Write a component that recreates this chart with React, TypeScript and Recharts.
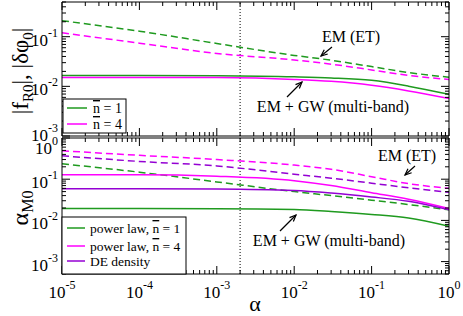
import React from 'react';
import { LineChart, Line, XAxis, YAxis, ReferenceLine } from 'recharts';

const alpha = [1e-5, 1e-4, 1e-3, 1e-2, 3e-2, 1e-1, 3e-1, 1];

// upper panel: |fR0|, |dphi0|
const fEmN1 = [0.21, 0.129, 0.073, 0.042, 0.0336, 0.025, 0.019, 0.0153];
const fEmN4 = [0.12, 0.074, 0.046, 0.034, 0.028, 0.0214, 0.0166, 0.0138];
const fGwN1 = [0.0166, 0.0166, 0.0164, 0.0156, 0.0148, 0.0132, 0.0101, 0.0069];
const fGwN4 = [0.0151, 0.0151, 0.015, 0.0138, 0.0126, 0.0105, 0.0081, 0.0057];

// lower panel: alpha_M0
const aEmN1 = [0.236, 0.148, 0.086, 0.05, 0.04, 0.031, 0.0243, 0.018];
const aEmN4 = [0.49, 0.38, 0.3, 0.22, 0.174, 0.115, 0.078, 0.06];
const aEmDE = [0.37, 0.27, 0.21, 0.132, 0.106, 0.08, 0.062, 0.048];
const aGwN1 = [0.0194, 0.0194, 0.0193, 0.0184, 0.0165, 0.014, 0.0114, 0.0072];
const aGwN4 = [0.128, 0.128, 0.118, 0.092, 0.07, 0.047, 0.0326, 0.0194];
const aGwDE = [0.059, 0.059, 0.058, 0.053, 0.046, 0.037, 0.029, 0.018];

const alphaMark = 0.002;

const xDomain = [1e-5, 1];
const topDomain = [1e-3, 0.5];
const botDomain = [5e-4, 1];

const GREEN = '#1f9a1f';
const MAGENTA = '#ff00ff';
const PURPLE = '#9400d3';
const FONT = "'Liberation Serif', 'Times New Roman', serif";

// decade + minor ticks between two numbers
function logTicks(lo: number, hi: number) {
  const out: number[] = [];
  for (let d = Math.floor(Math.log10(lo)); d <= Math.ceil(Math.log10(hi)); d++) {
    for (let m = 1; m <= 9; m++) {
      const v = m * Math.pow(10, d);
      if (v >= lo * 0.999 && v <= hi * 1.001) out.push(v);
    }
  }
  return out;
}
const isMajor = (v: number) => Math.abs(Math.log10(v) - Math.round(Math.log10(v))) < 1e-6;
const expOf = (v: number) => String(Math.round(Math.log10(v)));

const xTicks = logTicks(xDomain[0], xDomain[1]);
const topTicks = logTicks(topDomain[0], topDomain[1]);
const botTicks = logTicks(botDomain[0], botDomain[1]);

const topData = alpha.map((a, i) => ({ a, emN1: fEmN1[i], emN4: fEmN4[i], gwN1: fGwN1[i], gwN4: fGwN4[i] }));
const botData = alpha.map((a, i) => ({
  a, emN1: aEmN1[i], emN4: aEmN4[i], emDE: aEmDE[i], gwN1: aGwN1[i], gwN4: aGwN4[i], gwDE: aGwDE[i],
}));

const txt = { style: { fontFamily: FONT }, fill: '#000' };

const Pow = ({ x, y, v, anchor }: any) => (
  <text x={x} y={y} textAnchor={anchor} fontSize={17} {...txt}>
    10<tspan dy={-9} fontSize={12}>{expOf(v)}</tspan>
  </text>
);

const BottomTick = (labels: boolean) => (p: any) => {
  const v = p.payload.value;
  const len = isMajor(v) ? 8 : 4;
  return (
    <g>
      <line x1={p.x} y1={p.y} x2={p.x} y2={p.y - len} stroke="#000" />
      {labels && isMajor(v) && <Pow x={p.x} y={p.y + 24} v={v} anchor="middle" />}
    </g>
  );
};
const TopTick = (p: any) => {
  const len = isMajor(p.payload.value) ? 8 : 4;
  return <line x1={p.x} y1={p.y} x2={p.x} y2={p.y + len} stroke="#000" />;
};
// labels at the panel seam are nudged apart, as in the figure
const LeftTick = (lo: number, hi: number) => (p: any) => {
  const v = p.payload.value;
  const len = isMajor(v) ? 8 : 4;
  const nudge = Math.abs(v - lo) < lo * 1e-3 ? -4 : Math.abs(v - hi) < hi * 1e-3 ? 7 : 0;
  return (
    <g>
      <line x1={p.x} y1={p.y} x2={p.x + len} y2={p.y} stroke="#000" />
      {isMajor(v) && <Pow x={p.x - 4} y={p.y + 9 + nudge} v={v} anchor="end" />}
    </g>
  );
};
const RightTick = (p: any) => {
  const len = isMajor(p.payload.value) ? 8 : 4;
  return <line x1={p.x} y1={p.y} x2={p.x - len} y2={p.y} stroke="#000" />;
};

const axes = (yDomain: number[], yTicks: number[], labels: boolean) => [
  <XAxis key="xb" xAxisId="b" dataKey="a" orientation="bottom" type="number" scale="log" domain={xDomain}
    allowDataOverflow ticks={xTicks} interval={0} height={1} tickSize={0} tickMargin={0}
    tickLine={false} stroke="#000" tick={BottomTick(labels)} />,
  <XAxis key="xt" xAxisId="t" dataKey="a" orientation="top" type="number" scale="log" domain={xDomain}
    allowDataOverflow ticks={xTicks} interval={0} height={1} tickSize={0} tickMargin={0}
    tickLine={false} stroke="#000" tick={TopTick} />,
  <YAxis key="yl" yAxisId="l" orientation="left" type="number" scale="log" domain={yDomain}
    allowDataOverflow ticks={yTicks} interval={0} width={1} tickSize={0} tickMargin={0}
    tickLine={false} stroke="#000" tick={LeftTick(yDomain[0], yDomain[1])} />,
  <YAxis key="yr" yAxisId="r" orientation="right" type="number" scale="log" domain={yDomain}
    allowDataOverflow ticks={yTicks} interval={0} width={1} tickSize={0} tickMargin={0}
    tickLine={false} stroke="#000" tick={RightTick} />,
];

const series = (key: string, color: string, dashed: boolean) => (
  <Line key={key} xAxisId="b" yAxisId="l" dataKey={key} type="monotone" stroke={color}
    strokeWidth={1.5} strokeDasharray={dashed ? '7 4' : undefined} dot={false}
    isAnimationActive={false} />
);

const Arrow = ({ x1, y1, x2, y2 }: any) => {
  const ang = Math.atan2(y2 - y1, x2 - x1);
  const h = 7, w = 0.4;
  const p1 = [x2 - h * Math.cos(ang - w), y2 - h * Math.sin(ang - w)];
  const p2 = [x2 - h * Math.cos(ang + w), y2 - h * Math.sin(ang + w)];
  return (
    <g stroke="#000" strokeWidth={1.2} fill="none">
      <line x1={x1} y1={y1} x2={x2} y2={y2} />
      <polyline points={`${p1[0]},${p1[1]} ${x2},${y2} ${p2[0]},${p2[1]}`} />
    </g>
  );
};

export default function App() {
  return (
    <div style={{ position: 'absolute', left: 0, top: 0, width: 463, height: 316, background: '#fff' }}>
      <div style={{ position: 'absolute', left: 0, top: 0 }}>
        <LineChart width={463} height={160} data={topData} margin={{ top: 1, right: 13, bottom: 23, left: 61 }}>
          {axes(topDomain, topTicks, false)}
          <ReferenceLine xAxisId="b" yAxisId="l" x={alphaMark} stroke="#000" strokeDasharray="1 2" />
          {series('emN1', GREEN, true)}
          {series('emN4', MAGENTA, true)}
          {series('gwN1', GREEN, false)}
          {series('gwN4', MAGENTA, false)}
        </LineChart>
      </div>
      <div style={{ position: 'absolute', left: 0, top: 130 }}>
        <LineChart width={463} height={186} data={botData} margin={{ top: 7, right: 13, bottom: 41, left: 61 }}>
          {axes(botDomain, botTicks, true)}
          <ReferenceLine xAxisId="b" yAxisId="l" x={alphaMark} stroke="#000" strokeDasharray="1 2" />
          {series('emN4', MAGENTA, true)}
          {series('emDE', PURPLE, true)}
          {series('emN1', GREEN, true)}
          {series('gwN4', MAGENTA, false)}
          {series('gwDE', PURPLE, false)}
          {series('gwN1', GREEN, false)}
        </LineChart>
      </div>
      <svg width={463} height={316} style={{ position: 'absolute', left: 0, top: 0, pointerEvents: 'none' }}>
        {/* upper legend */}
        <rect x={63} y={99} width={63} height={34} fill="#fff" stroke="#000" />
        <line x1={67} y1={108} x2={87} y2={108} stroke={GREEN} strokeWidth={1.5} />
        <line x1={67} y1={124} x2={87} y2={124} stroke={MAGENTA} strokeWidth={1.5} />
        <text x={93} y={113} fontSize={14} {...txt}><tspan style={{ textDecoration: 'overline' }}>n</tspan> = 1</text>
        <text x={93} y={129} fontSize={14} {...txt}><tspan style={{ textDecoration: 'overline' }}>n</tspan> = 4</text>

        {/* lower legend */}
        <rect x={62} y={217} width={124} height={57} fill="#fff" stroke="#000" />
        <line x1={67} y1={228} x2={85} y2={228} stroke={GREEN} strokeWidth={1.5} />
        <line x1={67} y1={246} x2={85} y2={246} stroke={MAGENTA} strokeWidth={1.5} />
        <line x1={67} y1={261} x2={85} y2={261} stroke={PURPLE} strokeWidth={1.5} />
        <text x={90} y={233} fontSize={13.5} {...txt}>power law, <tspan style={{ textDecoration: 'overline' }}>n</tspan> = 1</text>
        <text x={90} y={251} fontSize={13.5} {...txt}>power law, <tspan style={{ textDecoration: 'overline' }}>n</tspan> = 4</text>
        <text x={90} y={266} fontSize={13.5} {...txt}>DE density</text>

        {/* annotations */}
        <text x={351} y={42} fontSize={16} textAnchor="middle" {...txt}>EM (ET)</text>
        <Arrow x1={332} y1={47} x2={321} y2={56} />
        <text x={333} y={112} fontSize={16} textAnchor="middle" {...txt}>EM + GW (multi-band)</text>
        <Arrow x1={287} y1={97} x2={302} y2={82} />
        <text x={407} y={161} fontSize={16} textAnchor="middle" {...txt}>EM (ET)</text>
        <Arrow x1={415} y1={166} x2={405} y2={175} />
        <text x={329} y={246} fontSize={16} textAnchor="middle" {...txt}>EM + GW (multi-band)</text>
        <Arrow x1={280} y1={231} x2={296} y2={215} />

        {/* axis titles */}
        <text transform="translate(28,71) rotate(-90)" fontSize={23} textAnchor="middle" {...txt}>
          |f<tspan dy={5} fontSize={15}>R0</tspan><tspan dy={-5}>|, |δφ</tspan><tspan dy={5} fontSize={15}>0</tspan><tspan dy={-5}>|</tspan>
        </text>
        <text transform="translate(28,208) rotate(-90)" fontSize={24} textAnchor="middle" {...txt}>
          α<tspan dy={5} fontSize={16}>M0</tspan>
        </text>
        <text x={255} y={311} fontSize={22} textAnchor="middle" {...txt}>α</text>
      </svg>
    </div>
  );
}
